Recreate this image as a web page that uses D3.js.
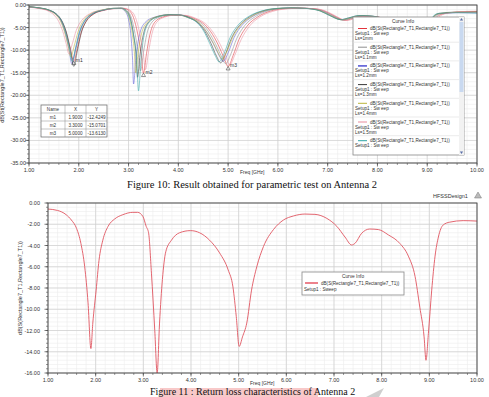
<!DOCTYPE html>
<html>
<head>
<meta charset="utf-8">
<script src="https://cdn.jsdelivr.net/npm/d3@7"></script>
<style>
  body { margin: 0; background: #fff; }
  svg { display: block; }
  .lbl { font-family: "Liberation Sans", Arial, sans-serif; fill: #333; }
  .cap { font-family: "Liberation Serif", "Times New Roman", serif; fill: #111; }
</style>
</head>
<body>
<svg id="chart" width="489" height="397"></svg>
<script>
// ---- data ----
const freqTicks = [1, 2, 3, 4, 5, 6, 7, 8, 9, 10];
const topDbTicks = [0, -5, -10, -15, -20, -25, -30, -35];
const botDbTicks = [0, -2, -4, -6, -8, -10, -12, -14, -16];

const lsNames = ['Ls=1mm', 'Ls=1.1mm', 'Ls=1.2mm', 'Ls=1.3mm', 'Ls=1.4mm', 'Ls=1.5mm', 'Ls=1.6mm'];

const ls10 = [[1.0,-0.45],[1.2,-0.7],[1.4,-1.2],[1.55,-2.1],[1.65,-3.5],[1.74,-5.8],[1.82,-9.2],[1.90,-12.42],[1.97,-9.6],[2.05,-6.0],[2.15,-3.6],[2.3,-2.0],[2.5,-1.2],[2.7,-0.8],[2.9,-0.75],[3.02,-1.3],[3.1,-2.8],[3.18,-6.2],[3.25,-10.5],[3.30,-15.07],[3.36,-10.8],[3.43,-6.5],[3.52,-3.9],[3.68,-2.7],[3.9,-2.25],[4.1,-2.3],[4.3,-2.9],[4.5,-4.1],[4.65,-5.9],[4.8,-8.8],[4.92,-11.8],[5.00,-13.61],[5.1,-11.2],[5.22,-7.6],[5.38,-4.7],[5.6,-2.6],[5.85,-1.35],[6.1,-0.85],[6.4,-0.7],[6.7,-0.8],[6.95,-1.4],[7.15,-2.5],[7.35,-3.4],[7.5,-3.0],[7.7,-2.5],[7.95,-2.6],[8.2,-3.2],[8.45,-4.5],[8.65,-6.8],[8.8,-10.2],[8.9,-13.2],[8.98,-10.0],[9.06,-6.0],[9.16,-3.3],[9.3,-2.0],[9.6,-1.6],[10.0,-1.5]];
const ls11 = [[1.0,-0.4],[1.2,-0.65],[1.4,-1.15],[1.55,-2.0],[1.65,-3.4],[1.73,-5.7],[1.81,-9.0],[1.88,-12.0],[1.95,-9.4],[2.03,-5.9],[2.13,-3.5],[2.28,-1.95],[2.5,-1.15],[2.7,-0.78],[2.88,-0.72],[2.98,-1.3],[3.06,-2.9],[3.13,-6.3],[3.19,-10.4],[3.24,-14.6],[3.3,-10.5],[3.37,-6.3],[3.47,-3.8],[3.63,-2.65],[3.85,-2.2],[4.05,-2.25],[4.25,-2.85],[4.45,-4.0],[4.6,-5.8],[4.75,-8.7],[4.87,-11.5],[4.95,-13.0],[5.05,-11.0],[5.17,-7.5],[5.33,-4.6],[5.55,-2.55],[5.8,-1.3],[6.05,-0.82],[6.35,-0.68],[6.65,-0.78],[6.92,-1.35],[7.12,-2.45],[7.32,-3.35],[7.48,-2.95],[7.68,-2.45],[7.92,-2.55],[8.18,-3.15],[8.42,-4.4],[8.62,-6.7],[8.77,-10.0],[8.87,-12.8],[8.95,-9.8],[9.03,-5.9],[9.13,-3.2],[9.28,-1.95],[9.6,-1.65],[10.0,-1.6]];
const ls12 = [[1.0,-0.42],[1.2,-0.68],[1.4,-1.2],[1.54,-2.1],[1.64,-3.5],[1.72,-5.9],[1.8,-9.6],[1.86,-13.0],[1.93,-9.8],[2.01,-6.1],[2.11,-3.6],[2.26,-2.0],[2.48,-1.15],[2.68,-0.78],[2.84,-0.74],[2.93,-1.4],[3.0,-3.2],[3.05,-7.0],[3.08,-12.0],[3.10,-17.5],[3.15,-11.5],[3.22,-6.6],[3.33,-3.9],[3.52,-2.7],[3.78,-2.2],[4.0,-2.2],[4.2,-2.8],[4.4,-3.9],[4.55,-5.7],[4.7,-8.5],[4.82,-11.2],[4.90,-12.5],[5.0,-10.6],[5.12,-7.2],[5.28,-4.5],[5.5,-2.5],[5.75,-1.3],[6.0,-0.8],[6.3,-0.66],[6.6,-0.76],[6.88,-1.3],[7.08,-2.4],[7.3,-3.3],[7.46,-2.9],[7.66,-2.4],[7.9,-2.5],[8.15,-3.1],[8.4,-4.3],[8.6,-6.6],[8.75,-9.9],[8.85,-12.6],[8.93,-9.6],[9.01,-5.8],[9.11,-3.1],[9.26,-1.9],[9.6,-1.7],[10.0,-1.75]];
const ls13 = [[1.0,-0.38],[1.2,-0.62],[1.4,-1.1],[1.55,-2.0],[1.66,-3.5],[1.75,-6.0],[1.83,-9.8],[1.90,-13.6],[1.97,-10.2],[2.05,-6.2],[2.15,-3.6],[2.3,-1.95],[2.5,-1.1],[2.7,-0.72],[2.86,-0.7],[2.96,-1.3],[3.04,-3.0],[3.1,-6.6],[3.15,-11.0],[3.18,-16.0],[3.23,-11.0],[3.3,-6.4],[3.4,-3.8],[3.58,-2.6],[3.82,-2.15],[4.02,-2.2],[4.22,-2.8],[4.4,-4.0],[4.53,-5.8],[4.66,-8.6],[4.77,-11.4],[4.85,-12.8],[4.95,-10.8],[5.07,-7.3],[5.23,-4.5],[5.45,-2.5],[5.7,-1.3],[5.95,-0.8],[6.25,-0.65],[6.55,-0.74],[6.85,-1.3],[7.05,-2.35],[7.27,-3.25],[7.43,-2.85],[7.63,-2.35],[7.88,-2.45],[8.13,-3.05],[8.38,-4.2],[8.58,-6.5],[8.73,-9.8],[8.83,-12.5],[8.91,-9.5],[8.99,-5.7],[9.09,-3.05],[9.24,-1.85],[9.6,-1.55],[10.0,-1.45]];
const ls14 = [[1.0,-0.4],[1.2,-0.66],[1.4,-1.18],[1.53,-2.1],[1.63,-3.5],[1.71,-5.8],[1.78,-8.8],[1.84,-11.5],[1.91,-9.0],[1.99,-5.8],[2.09,-3.5],[2.24,-1.95],[2.46,-1.12],[2.66,-0.76],[2.84,-0.72],[2.94,-1.35],[3.02,-3.1],[3.08,-6.8],[3.12,-11.0],[3.14,-15.0],[3.19,-10.8],[3.26,-6.4],[3.37,-3.85],[3.55,-2.65],[3.8,-2.2],[4.0,-2.22],[4.2,-2.82],[4.42,-4.0],[4.56,-5.8],[4.7,-8.4],[4.81,-10.8],[4.88,-12.0],[4.98,-10.2],[5.1,-7.0],[5.26,-4.4],[5.48,-2.5],[5.73,-1.3],[5.98,-0.8],[6.28,-0.66],[6.58,-0.75],[6.87,-1.32],[7.07,-2.4],[7.29,-3.3],[7.45,-2.9],[7.65,-2.4],[7.89,-2.5],[8.14,-3.1],[8.39,-4.3],[8.59,-6.6],[8.74,-9.9],[8.84,-12.6],[8.92,-9.6],[9.0,-5.8],[9.1,-3.1],[9.25,-1.9],[9.6,-1.6],[10.0,-1.55]];
const ls15 = [[1.0,-0.5],[1.2,-0.78],[1.38,-1.3],[1.5,-2.2],[1.6,-3.7],[1.68,-5.9],[1.75,-8.7],[1.80,-10.8],[1.87,-8.6],[1.95,-5.6],[2.06,-3.4],[2.22,-1.95],[2.45,-1.15],[2.68,-0.8],[2.92,-0.75],[3.05,-1.3],[3.14,-2.8],[3.22,-6.0],[3.29,-10.2],[3.34,-14.3],[3.4,-10.5],[3.47,-6.4],[3.56,-3.9],[3.72,-2.7],[3.94,-2.25],[4.14,-2.3],[4.34,-2.9],[4.54,-4.1],[4.69,-5.9],[4.84,-8.7],[4.96,-11.6],[5.03,-13.3],[5.13,-11.2],[5.26,-7.7],[5.42,-4.8],[5.64,-2.65],[5.9,-1.4],[6.15,-0.88],[6.45,-0.72],[6.75,-0.82],[6.98,-1.42],[7.18,-2.55],[7.38,-3.45],[7.53,-3.05],[7.73,-2.55],[7.98,-2.65],[8.23,-3.25],[8.48,-4.55],[8.68,-6.9],[8.83,-10.3],[8.93,-13.0],[9.01,-9.9],[9.09,-5.9],[9.19,-3.3],[9.34,-2.0],[9.6,-1.55],[10.0,-1.35]];
const ls16 = [[1.0,-0.4],[1.2,-0.64],[1.4,-1.12],[1.55,-2.05],[1.65,-3.45],[1.73,-5.8],[1.81,-9.3],[1.87,-12.5],[1.94,-9.5],[2.02,-5.9],[2.12,-3.5],[2.27,-1.95],[2.48,-1.12],[2.68,-0.76],[2.85,-0.71],[2.95,-1.35],[3.03,-3.0],[3.1,-6.6],[3.16,-11.5],[3.20,-19.0],[3.25,-12.0],[3.31,-6.8],[3.41,-3.9],[3.58,-2.65],[3.82,-2.18],[4.02,-2.2],[4.2,-2.8],[4.38,-3.95],[4.51,-5.8],[4.63,-8.5],[4.74,-11.2],[4.82,-12.6],[4.92,-10.7],[5.04,-7.2],[5.2,-4.45],[5.42,-2.5],[5.68,-1.3],[5.93,-0.8],[6.23,-0.65],[6.53,-0.74],[6.84,-1.3],[7.04,-2.35],[7.26,-3.25],[7.42,-2.85],[7.62,-2.35],[7.87,-2.45],[8.12,-3.05],[8.37,-4.2],[8.57,-6.5],[8.72,-9.8],[8.82,-12.4],[8.9,-9.4],[8.98,-5.6],[9.08,-3.0],[9.23,-1.85],[9.6,-1.7],[10.0,-1.8]];
const topSeries = [ls10, ls11, ls12, ls13, ls14, ls15, ls16];

// Figure 11: single return-loss curve
const antenna2 = [[1.0,-0.57],[1.2,-0.7],[1.38,-1.1],[1.49,-1.6],[1.6,-2.4],[1.69,-3.8],[1.77,-6.0],[1.84,-9.4],[1.9,-13.7],[1.94,-11.3],[2.01,-8.2],[2.07,-5.4],[2.15,-3.5],[2.26,-2.2],[2.4,-1.5],[2.57,-1.1],[2.78,-0.88],[2.88,-0.88],[2.99,-1.26],[3.06,-2.2],[3.11,-2.8],[3.17,-6.6],[3.24,-12.0],[3.29,-16.0],[3.34,-11.3],[3.4,-7.2],[3.47,-4.6],[3.59,-3.5],[3.76,-2.8],[3.99,-2.6],[4.18,-2.8],[4.39,-3.5],[4.6,-4.7],[4.78,-6.3],[4.88,-7.9],[4.95,-10.7],[5.01,-13.5],[5.08,-12.6],[5.17,-11.3],[5.27,-8.2],[5.38,-6.0],[5.52,-4.1],[5.73,-2.5],[5.94,-1.6],[6.15,-1.22],[6.39,-1.04],[6.6,-1.07],[6.85,-1.45],[7.06,-2.2],[7.23,-3.2],[7.37,-3.95],[7.44,-3.8],[7.58,-2.85],[7.75,-2.45],[7.93,-2.5],[8.14,-3.0],[8.38,-3.8],[8.56,-5.0],[8.7,-6.9],[8.8,-9.8],[8.89,-12.6],[8.93,-14.8],[8.98,-12.3],[9.05,-8.2],[9.12,-5.0],[9.19,-3.2],[9.29,-2.07],[9.43,-1.8],[9.71,-1.66],[10.0,-1.7]];

const markerNames = ['m1', 'm2', 'm3'];
const markerX = [1.9, 3.3, 5.0];
const markerY = [-12.4249, -15.0701, -13.6130];

// ---- styles ----
const topColors = ['#e2343c', '#8e8e8e', '#5b5bd6', '#3a3a3a', '#b9b43a', '#e98c9c', '#2fa6a6'];
const curveTxt = 'dB(St(Rectangle7_T1,Rectangle7_T1))';

const svg = d3.select('#chart');

function drawFrame(x, y, minorX, minorY) {
    const [x0, x1] = x.range();
    const [y0, y1] = y.range();
    const g = svg.append('g');
    // minor grid
    g.selectAll('.mx').data(minorX).enter().append('line')
        .attr('x1', d => x(d)).attr('x2', d => x(d)).attr('y1', y0).attr('y2', y1)
        .attr('stroke', '#ececec').attr('stroke-width', 0.6);
    g.selectAll('.my').data(minorY).enter().append('line')
        .attr('y1', d => y(d)).attr('y2', d => y(d)).attr('x1', x0).attr('x2', x1)
        .attr('stroke', '#ececec').attr('stroke-width', 0.6);
    // major grid
    g.selectAll('.gx').data(freqTicks).enter().append('line')
        .attr('x1', d => x(d)).attr('x2', d => x(d)).attr('y1', y0).attr('y2', y1)
        .attr('stroke', '#cfcfcf').attr('stroke-width', 0.7);
    g.selectAll('.gy').data(y.ticksList).enter().append('line')
        .attr('y1', d => y(d)).attr('y2', d => y(d)).attr('x1', x0).attr('x2', x1)
        .attr('stroke', '#cfcfcf').attr('stroke-width', 0.7);
    return g;
}

function drawAxes(x, y, labelRight) {
    const [x0, x1] = x.range();
    const [y0, y1] = y.range();
    const g = svg.append('g');
    // minor tick marks along axes
    const minorX = d3.range(1, 10.001, 0.2);
    g.selectAll('.tx').data(minorX).enter().append('line')
        .attr('x1', d => x(d)).attr('x2', d => x(d)).attr('y1', y1).attr('y2', y1 + 2)
        .attr('stroke', '#555').attr('stroke-width', 0.6);
    g.selectAll('.txm').data(freqTicks).enter().append('line')
        .attr('x1', d => x(d)).attr('x2', d => x(d)).attr('y1', y1).attr('y2', y1 + 3.5)
        .attr('stroke', '#444').attr('stroke-width', 0.7);
    g.selectAll('.ty').data(y.minorTicks).enter().append('line')
        .attr('x1', x0 - 2).attr('x2', x0).attr('y1', d => y(d)).attr('y2', d => y(d))
        .attr('stroke', '#555').attr('stroke-width', 0.6);
    g.selectAll('.tym').data(y.ticksList).enter().append('line')
        .attr('x1', x0 - 3.5).attr('x2', x0).attr('y1', d => y(d)).attr('y2', d => y(d))
        .attr('stroke', '#444').attr('stroke-width', 0.7);
    g.append('rect').attr('x', x0).attr('y', y0).attr('width', x1 - x0).attr('height', y1 - y0)
        .attr('fill', 'none').attr('stroke', '#444').attr('stroke-width', 0.9);
    g.selectAll('.xl').data(freqTicks).enter().append('text').attr('class', 'lbl')
        .attr('x', d => x(d)).attr('y', y1 + 9).attr('text-anchor', 'middle')
        .style('font-size', '5.5px').text(d => d.toFixed(2));
    g.selectAll('.yl').data(y.ticksList).enter().append('text').attr('class', 'lbl')
        .attr('x', labelRight).attr('y', d => y(d) + 2).attr('text-anchor', 'end')
        .style('font-size', '5.5px').text(d => d.toFixed(2));
}

// ---------- Figure 10 ----------
const xT = d3.scaleLinear().domain([1, 10]).range([29, 477]);
const yT = d3.scaleLinear().domain([0, -35]).range([5, 163]);
yT.ticksList = topDbTicks;
yT.minorTicks = d3.range(0, -35.001, -1);
drawFrame(xT, yT, d3.range(1, 10.001, 0.2), d3.range(0, -35.001, -1));

const lineT = d3.line().x(d => xT(d[0])).y(d => yT(d[1])).curve(d3.curveMonotoneX);
const gT = svg.append('g');
topSeries.forEach((s, i) => {
    gT.append('path').attr('d', lineT(s)).attr('fill', 'none')
        .attr('stroke', topColors[i]).attr('stroke-width', 0.7).attr('stroke-opacity', 0.8);
});
// markers
markerX.forEach((mx, i) => {
    const px = xT(mx), py = yT(markerY[i]);
    gT.append('path').attr('d', `M${px},${py} l-2,3.5 h4 z`)
        .attr('fill', 'none').attr('stroke', '#333').attr('stroke-width', 0.5);
    gT.append('text').attr('class', 'lbl').attr('x', px + 2).attr('y', py + 1)
        .style('font-size', '5px').text(markerNames[i]);
});
drawAxes(xT, yT, 26);
svg.append('text').attr('class', 'lbl').attr('x', 240).attr('y', 174)
    .style('font-size', '5px').text('Freq [GHz]');
svg.append('text').attr('class', 'lbl')
    .attr('transform', 'translate(4,75) rotate(-90)').attr('text-anchor', 'middle')
    .style('font-size', '5.5px').text(curveTxt);

// marker table
const tbl = svg.append('g').attr('transform', 'translate(41,105)');
const colX = [0, 24, 45, 66];
tbl.append('rect').attr('width', 66).attr('height', 32).attr('fill', '#fff')
    .attr('stroke', '#666').attr('stroke-width', 0.7);
[8, 16, 24].forEach(r => tbl.append('line').attr('x1', 0).attr('x2', 66).attr('y1', r).attr('y2', r)
    .attr('stroke', '#888').attr('stroke-width', 0.5));
[24, 45].forEach(c => tbl.append('line').attr('x1', c).attr('x2', c).attr('y1', 0).attr('y2', 32)
    .attr('stroke', '#888').attr('stroke-width', 0.5));
const heads = ['Name', 'X', 'Y'];
heads.forEach((h, j) => tbl.append('text').attr('class', 'lbl')
    .attr('x', (colX[j] + colX[j + 1]) / 2).attr('y', 5.8).attr('text-anchor', 'middle')
    .style('font-size', '4.6px').text(h));
markerNames.forEach((n, i) => {
    const yy = 8 * (i + 1) + 5.8;
    tbl.append('text').attr('class', 'lbl').attr('x', 12).attr('y', yy).attr('text-anchor', 'middle')
        .style('font-size', '4.6px').text(n);
    tbl.append('text').attr('class', 'lbl').attr('x', 34.5).attr('y', yy).attr('text-anchor', 'middle')
        .style('font-size', '4.6px').text(markerX[i].toFixed(4));
    tbl.append('text').attr('class', 'lbl').attr('x', 55.5).attr('y', yy).attr('text-anchor', 'middle')
        .style('font-size', '4.6px').text(markerY[i].toFixed(4));
});

// curve info legend (top)
const lg = svg.append('g').attr('transform', 'translate(353,17)');
lg.append('rect').attr('width', 111).attr('height', 138).attr('fill', '#fff')
    .attr('stroke', '#888').attr('stroke-width', 0.8);
lg.append('text').attr('class', 'lbl').attr('x', 50).attr('y', 5.5).attr('text-anchor', 'middle')
    .style('font-size', '4.8px').text('Curve Info');
lsNames.forEach((n, i) => {
    const y0 = 8 + i * 18.7;
    if (i > 0) lg.append('line').attr('x1', 0).attr('x2', 106).attr('y1', y0 - 1.5).attr('y2', y0 - 1.5)
        .attr('stroke', '#ddd').attr('stroke-width', 0.6);
    lg.append('line').attr('x1', 5).attr('x2', 14).attr('y1', y0 + 3.5).attr('y2', y0 + 3.5)
        .attr('stroke', topColors[i]).attr('stroke-width', i === 2 ? 1.6 : 1);
    lg.append('text').attr('class', 'lbl').attr('x', 17).attr('y', y0 + 5).style('font-size', '4.6px').text(curveTxt);
    lg.append('text').attr('class', 'lbl').attr('x', 2).attr('y', y0 + 10).style('font-size', '4.6px').text('Setup1 : Sw eep');
    if (i < 6) lg.append('text').attr('class', 'lbl').attr('x', 2).attr('y', y0 + 15).style('font-size', '4.6px').text(n);
});
// scrollbar
lg.append('rect').attr('x', 106).attr('y', 0).attr('width', 5).attr('height', 138).attr('fill', '#f2f2f2');
lg.append('rect').attr('x', 106.5).attr('y', 5).attr('width', 4).attr('height', 70).attr('fill', '#c9d9f0');
lg.append('path').attr('d', 'M108.5,1 l-1.6,2.4 h3.2 z').attr('fill', '#5a6fa8');
lg.append('path').attr('d', 'M108.5,137 l-1.6,-2.4 h3.2 z').attr('fill', '#5a6fa8');

// caption 10
svg.append('text').attr('class', 'cap').attr('x', 252).attr('y', 188).attr('text-anchor', 'middle')
    .style('font-size', '10.5px').text('Figure 10: Result obtained for parametric test on Antenna 2');

// ---------- Figure 11 ----------
svg.append('text').attr('class', 'lbl').attr('x', 433).attr('y', 198).style('font-size', '5.5px').text('HFSSDesign1');
svg.append('path').attr('d', 'M478,192 l-3.5,6 h7 z').attr('fill', '#bbb').attr('stroke', '#777').attr('stroke-width', 0.5);

const xB = d3.scaleLinear().domain([1, 10]).range([48, 477]);
const yB = d3.scaleLinear().domain([0, -16]).range([203, 373]);
yB.ticksList = botDbTicks;
yB.minorTicks = d3.range(0, -16.001, -0.4);
drawFrame(xB, yB, d3.range(1, 10.001, 0.2), d3.range(0, -16.001, -0.4));

const lineB = d3.line().x(d => xB(d[0])).y(d => yB(d[1])).curve(d3.curveMonotoneX);
svg.append('path').attr('d', lineB(antenna2)).attr('fill', 'none')
    .attr('stroke', '#e05560').attr('stroke-width', 0.9);
drawAxes(xB, yB, 40);
svg.append('text').attr('class', 'lbl').attr('x', 250).attr('y', 385)
    .style('font-size', '5px').text('Freq [GHz]');
svg.append('text').attr('class', 'lbl')
    .attr('transform', 'translate(22,288) rotate(-90)').attr('text-anchor', 'middle')
    .style('font-size', '5.5px').text('dB(S(Rectangle7_T1,Rectangle7_T1))');

// legend (bottom)
const lb = svg.append('g').attr('transform', 'translate(302,272)');
lb.append('rect').attr('width', 102).attr('height', 23).attr('fill', '#fff')
    .attr('stroke', '#888').attr('stroke-width', 0.8);
lb.append('text').attr('class', 'lbl').attr('x', 51).attr('y', 5.5).attr('text-anchor', 'middle')
    .style('font-size', '4.8px').text('Curve Info');
lb.append('line').attr('x1', 3).attr('x2', 16).attr('y1', 11).attr('y2', 11)
    .attr('stroke', '#e03040').attr('stroke-width', 1.2);
lb.append('text').attr('class', 'lbl').attr('x', 19).attr('y', 12.5).style('font-size', '4.6px')
    .text('dB(S(Rectangle7_T1,Rectangle7_T1))');
lb.append('text').attr('class', 'lbl').attr('x', 2).attr('y', 18.5).style('font-size', '4.6px')
    .text('Setup1 : Sweep');

// caption 11
svg.append('rect').attr('x', 160).attr('y', 388).attr('width', 158).attr('height', 9).attr('fill', '#f8c9c9');
svg.append('path').attr('d', 'M366,397 L384,388 L379,397 Z').attr('fill', '#cfcfcf');
svg.append('text').attr('class', 'cap').attr('x', 150).attr('y', 395)
    .style('font-size', '10px').text('Figure 11 : Return loss characteristics of Antenna 2');
</script>
</body>
</html>
